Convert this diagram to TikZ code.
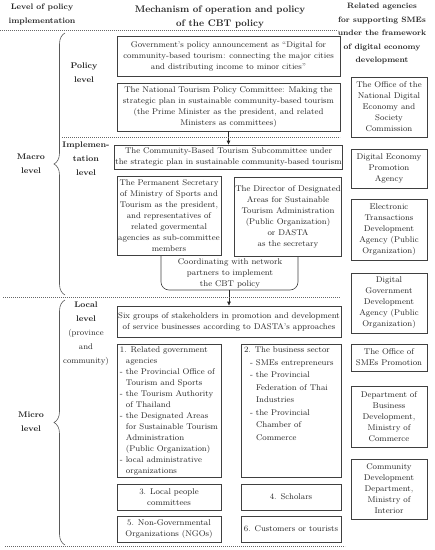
\documentclass[tikz,border=0pt]{standalone}
\usepackage{tikz}
\usetikzlibrary{arrows.meta,decorations.pathreplacing}

\begin{document}
\begin{tikzpicture}[x=1pt,y=-1pt,
    every node/.style={font=\fontsize{8.3}{11}\selectfont, text=black!85},
    box_node/.style={draw=black!75, line width=0.6pt, align=center, inner sep=1pt},
    head_node/.style={font=\fontsize{8}{13.5}\selectfont\bfseries, align=center, inner sep=0pt},
    level_node/.style={font=\fontsize{8.2}{14}\selectfont\bfseries, align=center, inner sep=0pt},
    box_line/.style={draw=black!75, line width=0.6pt},
    dash_line/.style={draw=black!60, line width=0.6pt, dash pattern=on 1.2pt off 0.8pt},
    brace_line/.style={draw=black!65, line width=0.6pt, decorate, decoration={brace, amplitude=11pt}},
    arrow_line/.style={draw=black!85, line width=0.6pt, -{Latex[length=4pt,width=4pt]}}]
    \useasboundingbox (0,0) rectangle (435,550);

    \node[head_node] (head_level) at (42,14.5) {Level of policy\\implementation};
    \node[head_node, font=\fontsize{9.6}{14}\selectfont\bfseries] (head_mech) at (220,17) {Mechanism of operation and policy\\of the CBT policy};
    \node[head_node, font=\fontsize{7.8}{13.5}\selectfont\bfseries] (head_agency) at (382,34) {Related agencies\\for supporting SMEs\\under the framework\\of digital economy\\development};

    \node[level_node] (macro) at (31,164) {Macro\\level};
    \node[level_node] (micro) at (31,422) {Micro\\level};
    \node[level_node] (policy) at (84,73) {Policy\\level};
    \node[level_node] (implement) at (86,159) {Implemen-\\tation\\level};
    \node[level_node] (local) at (86,334) {Local\\level\\\mdseries(province\\\mdseries and\\\mdseries community)};

    \node[box_node, minimum width=223pt, minimum height=40pt] (gov) at (228.5,56) {Government's policy announcement as ``Digital for\\community-based tourism: connecting the major cities\\and distributing income to minor cities''};
    \node[box_node, minimum width=223pt, minimum height=48pt] (ntpc) at (228.5,107) {The National Tourism Policy Committee: Making the\\strategic plan in sustainable community-based tourism\\(the Prime Minister as the president, and related\\Ministers as committees)};
    \node[box_node, minimum width=223pt, minimum height=24pt] (subcom) at (228.5,157) {The Community-Based Tourism Subcommittee under\\the strategic plan in sustainable community-based tourism};
    \node[box_node, minimum width=104pt, minimum height=79pt] (perm) at (169,215.5) {The Permanent Secretary\\of Ministry of Sports and\\Tourism as the president,\\and representatives of\\related govermental\\agencies as sub-committee\\members};
    \node[box_node, minimum width=104pt, minimum height=79pt] (dasta) at (288,216.5) {The Director of Designated\\Areas for Sustainable\\Tourism Administration\\(Public Organization)\\or DASTA\\as the secretary};
    \node[align=center, inner sep=0pt] (coord_text) at (230,273) {Coordinating with network\\partners to implement\\the CBT policy};
    \coordinate (u_mid) at (229,290);
    \node[box_node, minimum width=224pt, minimum height=31pt] (six) at (229,321.5) {Six groups of stakeholders in promotion and development\\of service businesses according to DASTA's approaches};

    \node[box_node, align=left, minimum width=104pt, minimum height=133pt] (govagency) at (169,410.5) {1. Related government\\\hspace*{6pt}agencies\\- the Provincial Office of\\\hspace*{6pt}Tourism and Sports\\- the Tourism Authority\\\hspace*{6pt}of Thailand\\- the Designated Areas\\\hspace*{6pt}for Sustainable Tourism\\\hspace*{6pt}Administration\\\hspace*{6pt}(Public Organization)\\- local administrative\\\hspace*{6pt}organizations};
    \node[box_node, align=left, inner sep=3pt] (business) at (291,410.5) {\begin{minipage}[c][127pt][t]{94pt}\fontsize{8.3}{12.5}\selectfont
        2. The business sector\\\hspace*{6pt}- SMEs entrepreneurs\\\hspace*{6pt}- the Provincial\\\hspace*{12pt}Federation of Thai\\\hspace*{12pt}Industries\\\hspace*{6pt}- the Provincial\\\hspace*{12pt}Chamber of\\\hspace*{12pt}Commerce
    \end{minipage}};
    \node[box_node, minimum width=104pt, minimum height=26pt] (people) at (169,497) {3. Local people\\committees};
    \node[box_node, minimum width=100pt, minimum height=26pt] (scholar) at (291,497) {4. Scholars};
    \node[box_node, minimum width=104pt, minimum height=26pt] (ngo) at (169,529) {5. Non-Governmental\\Organizations (NGOs)};
    \node[box_node, minimum width=100pt, minimum height=26pt] (tourist) at (291,529) {6. Customers or tourists};

    \node[box_node, minimum width=76pt, minimum height=60pt] (onde) at (389,107) {The Office of the\\National Digital\\Economy and\\Society\\Commission};
    \node[box_node, minimum width=76pt, minimum height=39pt] (depa) at (389,168.5) {Digital Economy\\Promotion\\Agency};
    \node[box_node, minimum width=76pt, minimum height=61pt] (etda) at (389,229.5) {Electronic\\Transactions\\Development\\Agency (Public\\Organization)};
    \node[box_node, minimum width=76pt, minimum height=60pt] (dga) at (389,303) {Digital\\Government\\Development\\Agency (Public\\Organization)};
    \node[box_node, minimum width=76pt, minimum height=27pt] (osmep) at (389,357.5) {The Office of\\SMEs Promotion};
    \node[box_node, minimum width=76pt, minimum height=61pt] (dbd) at (389,416.5) {Department of\\Business\\Development,\\Ministry of\\Commerce};
    \node[box_node, minimum width=76pt, minimum height=60pt] (cdd) at (389,489) {Community\\Development\\Department,\\Ministry of\\Interior};

    \draw[box_line, rounded corners=8pt] ([xshift=-8pt]perm.south) |- (u_mid) -| ([xshift=10pt]dasta.south);
    \draw[arrow_line] (ntpc.south) -- (subcom.north);
    \draw[arrow_line] (u_mid) -- (six.north);

    \draw[dash_line] (0,30) -- (338,30);
    \draw[dash_line] (62,137) -- (340,137);
    \draw[dash_line] (3,297) -- (340,297);
    \draw[dash_line] (5,546) -- (345,546);

    \draw[brace_line] (65,295) -- (65,33);
    \draw[brace_line] (65,545) -- (65,300);
\end{tikzpicture}
\end{document}
